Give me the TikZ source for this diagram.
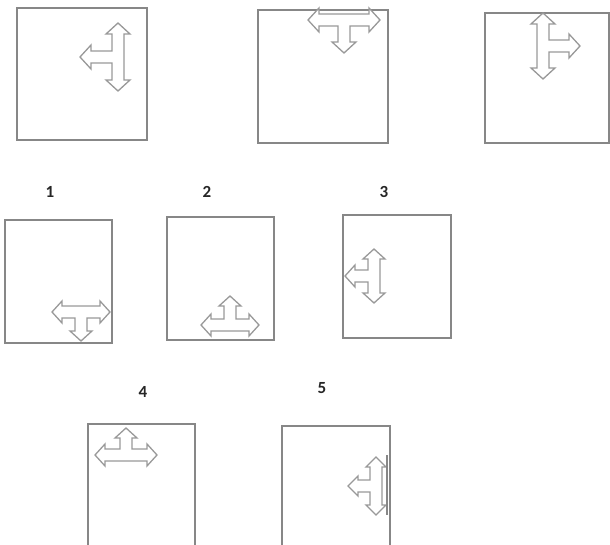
\documentclass[tikz,border=0pt]{standalone}
\usepackage{fontspec}
\setmainfont{Carlito}
\begin{document}
\begin{tikzpicture}[x=1pt,y=-1pt,
  framebox/.style={draw=black!47,line width=1.9pt},
  numlabel/.style={font=\fontsize{17}{19}\selectfont\bfseries,text=black!85},
  pics/tarrow/.style args={#1/#2/#3/#4/#5}{code={
    % #1 half length of double arrow, #2 branch length, #3 shaft half width, #4 head half width, #5 head length
    \draw[draw=black!40,line width=1.3pt,fill=white,line join=miter]
      (0,#1) -- (#4,#1-#5) -- (#3,#1-#5) -- (#3,#3) -- (#2-#5,#3) -- (#2-#5,#4)
      -- (#2,0) -- (#2-#5,-#4) -- (#2-#5,-#3) -- (#3,-#3) -- (#3,-#1+#5)
      -- (#4,-#1+#5) -- (0,-#1) -- (-#4,-#1+#5) -- (-#3,-#1+#5) -- (-#3,#1-#5)
      -- (-#4,#1-#5) -- cycle;
  }}]
\useasboundingbox (0,0) rectangle (610,545);
% top row
\draw[framebox] (17,8) rectangle (147,140);
\draw[framebox] (258,10) rectangle (388,143);
\draw[framebox] (485,13) rectangle (609,143);
\pic[rotate=180] at (118,57) {tarrow={34/38/6/12/11}};
\pic[rotate=270] at (344,20) {tarrow={36/33/6/12/11}};
\pic[rotate=0] at (543,46) {tarrow={33/37/6/12/11}};
% labels
\node[numlabel] (l1) at (50,192) {1};
\node[numlabel] (l2) at (207,192) {2};
\node[numlabel] (l3) at (384,192) {3};
\node[numlabel] (l4) at (143,392) {4};
\node[numlabel] (l5) at (322,388) {5};
% middle row
\draw[framebox] (5,220) rectangle (112,343);
\draw[framebox] (167,217) rectangle (274,340);
\draw[framebox] (343,215) rectangle (451,338);
\pic[rotate=270] at (81,312) {tarrow={29/29/6/11/10}};
\pic[rotate=90] at (230,325) {tarrow={29/29/6/11/10}};
\pic[rotate=180] at (374,276) {tarrow={27/29/6/11/10}};
% bottom row (open at bottom)
\draw[framebox] (88,545) -- (88,424) -- (195,424) -- (195,545);
\draw[framebox] (282,545) -- (282,426) -- (390,426) -- (390,545);
\pic[rotate=90] at (126,455) {tarrow={31/27/6/11/10}};
\pic[rotate=180] at (376,486) {tarrow={29/28/6/10/10}};
\draw[draw=black!47,line width=1.9pt] (387,455) -- (387,515);
\end{tikzpicture}
\end{document}
